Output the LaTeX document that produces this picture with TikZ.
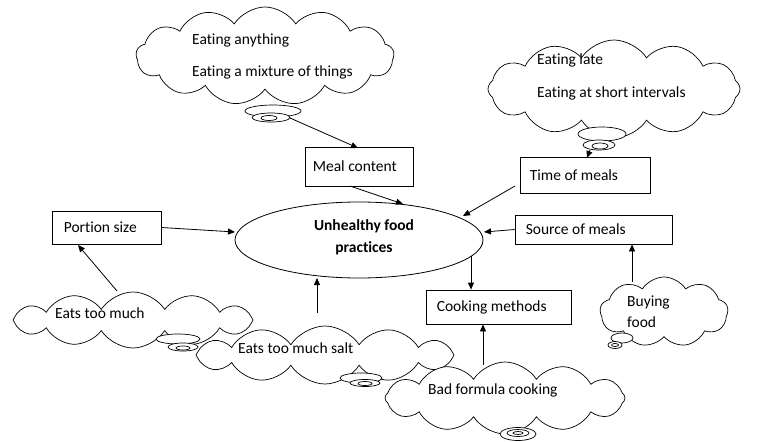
\documentclass[tikz,border=0pt]{standalone}
\usepackage{fontspec}
\setmainfont[Ligatures=NoCommon]{Carlito}
\usetikzlibrary{shapes.geometric,shapes.symbols,arrows.meta}
\begin{document}
\begin{tikzpicture}[x=1pt,y=-1pt,
  lbl/.style={font=\fontsize{15.5}{18}\selectfont, inner sep=0, anchor=west},
  box/.style={draw, line width=0.8pt, inner sep=0},
  cloudshape/.style={cloud, draw, fill=white, line width=0.7pt, cloud puffs=#1, cloud ignores aspect, inner sep=0, cloud puff arc=115},
  tail/.style={ellipse, draw, fill=white, line width=0.7pt, inner sep=0},
  arr/.style={-{Triangle[length=7pt,width=6pt]}, line width=0.8pt}]
\useasboundingbox (0,0) rectangle (759,441);

% clouds
\node[cloudshape=13, minimum width=258pt, minimum height=98pt] (c1) at (265,56) {};
\node[cloudshape=12, minimum width=252pt, minimum height=98pt] (c2) at (614,89) {};
\node[cloudshape=12, minimum width=240pt, minimum height=56pt] (c3) at (133,320) {};
\node[cloudshape=12, minimum width=258pt, minimum height=58pt] (c4) at (325,355) {};
\node[cloudshape=12, minimum width=240pt, minimum height=72pt] (c5) at (505,398) {};
\node[cloudshape=9, minimum width=128pt, minimum height=70pt] (c6) at (664,312) {};

% tails
\node[tail, minimum width=56pt, minimum height=12pt] (t1a) at (273,111) {};
\node[tail, minimum width=38pt, minimum height=9pt] (t1b) at (271,117.5) {};
\node[tail, minimum width=16pt, minimum height=5pt] (t1c) at (269,118) {};
\node[tail, minimum width=48pt, minimum height=14pt] (t2a) at (602,134) {};
\node[tail, minimum width=32pt, minimum height=10pt] (t2b) at (599,145) {};
\node[tail, minimum width=16pt, minimum height=6pt] (t2c) at (600,146) {};
\node[tail, minimum width=44pt, minimum height=10pt] (t3a) at (178,339) {};
\node[tail, minimum width=30pt, minimum height=8pt] (t3b) at (183,347) {};
\node[tail, minimum width=14pt, minimum height=4pt] (t3c) at (183,348) {};
\node[tail, minimum width=42pt, minimum height=10pt] (t4a) at (361,378) {};
\node[tail, minimum width=30pt, minimum height=7pt] (t4b) at (365,383) {};
\node[tail, minimum width=14pt, minimum height=4pt] (t4c) at (365,383.5) {};
\node[tail, minimum width=36pt, minimum height=13pt] (t5a) at (518,434) {};
\node[tail, minimum width=22pt, minimum height=7pt] (t5b) at (518,433) {};
\node[tail, minimum width=10pt, minimum height=3pt] (t5c) at (518,433) {};
\node[tail, minimum width=22pt, minimum height=10pt] (t6a) at (622,338) {};
\node[tail, minimum width=14pt, minimum height=7pt] (t6b) at (615,345) {};
\node[tail, minimum width=7pt, minimum height=3pt] (t6c) at (615,345) {};

% cloud texts
\node[lbl] (c1t1) at (192,40) {Eating anything};
\node[lbl] (c1t2) at (192,72) {Eating a mixture of things};
\node[lbl] (c2t1) at (537,60) {Eating late};
\node[lbl] (c2t2) at (537,93) {Eating at short intervals};
\node[lbl] (c3t) at (55,313) {Eats too much};
\node[lbl] (c4t) at (238,348) {Eats too much salt};
\node[lbl] (c5t) at (428,390) {Bad formula cooking};
\node[lbl] (c6t1) at (627,302) {Buying};
\node[lbl] (c6t2) at (627,322) {food};

% boxes
\node[box, minimum width=108pt, minimum height=39pt] (meal) at (359,166.5) {};
\node[lbl] at ([xshift=8pt]meal.west) {Meal content};
\node[box, minimum width=130pt, minimum height=36pt] (time) at (585,175) {};
\node[lbl] at ([xshift=10pt]time.west) {Time of meals};
\node[box, minimum width=109pt, minimum height=33pt] (portion) at (106.5,227.5) {};
\node[lbl] at ([xshift=12pt]portion.west) {Portion size};
\node[box, minimum width=157pt, minimum height=29pt] (source) at (593.5,229.5) {};
\node[lbl] at ([xshift=11pt]source.west) {Source of meals};
\node[box, minimum width=145pt, minimum height=34pt] (cook) at (498.5,307) {};
\node[lbl] at ([xshift=11pt]cook.west) {Cooking methods};

% centre
\node[ellipse, draw, line width=0.8pt, minimum width=248pt, minimum height=76pt, inner sep=0] (main) at (359,240) {};
\node[font=\fontsize{15.5}{18}\selectfont\bfseries, align=center, inner sep=0] (maint) at (364,237) {Unhealthy food\\[4pt]practices};

% connectors
\coordinate (e1) at (290,118);
\draw[arr] (e1) -- (358,148);
\draw[arr] (590,150) -- (587,158);
\draw[arr] (350,186) -- (403,204);
\draw[arr] (515,186) -- (463,216);
\draw[arr] (portion.east) -- (235,232);
\draw[arr] (source.west) -- (484,232);
\draw[arr] (471,256) -- (cook.north -| 471,0);
\draw[arr] (117,291) -- (78,245);
\draw[arr] (317,313) -- (317,278);
\draw[arr] (483,365) -- (cook.south -| 483,0);
\draw[arr] (632,282) -- (source.south -| 632,0);
\end{tikzpicture}
\end{document}
